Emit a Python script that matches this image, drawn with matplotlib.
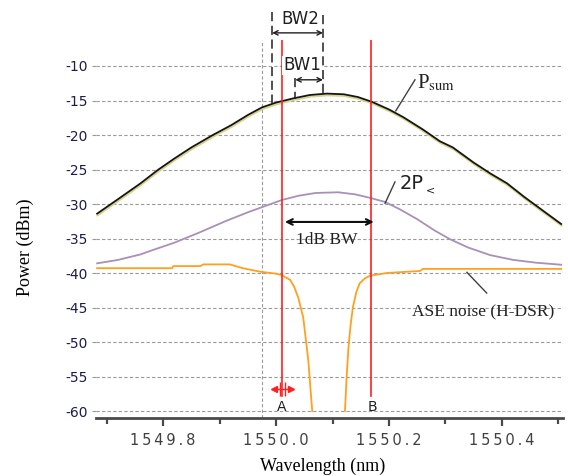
import numpy as np
import matplotlib
matplotlib.use("Agg")
from matplotlib import pyplot as plt
import matplotlib.patheffects as pe

plt.rcParams['axes.unicode_minus'] = False
plt.rcParams['mathtext.fontset'] = 'stix'

# values (wavelength nm, power dBm)
psum_wl = [1549.683, 1549.72, 1549.76, 1549.79, 1549.82, 1549.85, 1549.888, 1549.92,
           1549.95, 1549.975, 1550.0, 1550.03, 1550.06, 1550.09, 1550.12, 1550.145,
           1550.17, 1550.2, 1550.225, 1550.26, 1550.29, 1550.313, 1550.35, 1550.38,
           1550.409, 1550.44, 1550.47, 1550.505]
psum_db = [-31.4, -29.3, -27.0, -25.1, -23.4, -21.8, -20.0, -18.6,
           -17.1, -16.0, -15.3, -14.7, -14.2, -14.0, -14.1, -14.5,
           -15.2, -16.3, -17.4, -19.2, -20.9, -21.8, -24.0, -25.6,
           -27.0, -29.0, -30.8, -32.9]

p2_wl = [1549.683, 1549.72, 1549.76, 1549.777, 1549.82, 1549.865, 1549.91, 1549.95,
         1549.977, 1550.011, 1550.04, 1550.07, 1550.11, 1550.14, 1550.166, 1550.193,
         1550.22, 1550.25, 1550.28, 1550.308, 1550.34, 1550.379, 1550.42, 1550.46, 1550.505]
p2_db = [-38.6, -38.1, -37.3, -36.8, -35.6, -34.1, -32.5, -31.2,
         -30.4, -29.4, -28.8, -28.4, -28.3, -28.6, -29.1, -29.7,
         -30.8, -32.2, -33.8, -35.1, -36.3, -37.4, -38.1, -38.5, -38.8]

ase_l_wl = [1549.683, 1549.816, 1549.818, 1549.866, 1549.871, 1549.918, 1549.941, 1549.971,
            1550.0, 1550.01, 1550.025, 1550.032, 1550.039, 1550.048, 1550.057, 1550.064]
ase_l_db = [-39.3, -39.3, -39.0, -39.0, -38.75, -38.75, -39.3, -39.8,
            -40.1, -40.3, -41.0, -42.0, -43.5, -46.4, -52.6, -60.0]
ase_r_wl = [1550.122, 1550.125, 1550.128, 1550.132, 1550.136, 1550.142, 1550.148, 1550.157,
            1550.166, 1550.196, 1550.255, 1550.26, 1550.505]
ase_r_db = [-60.0, -55.0, -51.0, -47.5, -45.0, -42.8, -41.5, -40.8,
            -40.4, -40.0, -39.7, -39.4, -39.4]

cursor_a = 1550.0106
cursor_b = 1550.168
grid_x = 1549.975
bw2 = [1549.993, 1550.083]
bw1 = [1550.034, 1550.083]

yticks = [-10, -15, -20, -25, -30, -35, -40, -45, -50, -55, -60]
xticks = [1549.8, 1550.0, 1550.2, 1550.4]
xminor = [1549.7, 1549.9, 1550.1, 1550.3, 1550.5]
xlabels = ['1549.8', '1550.0', '1550.2', '1550.4']

fig = plt.figure(figsize=(5.68, 4.76), dpi=100)
ax = fig.add_axes([0.169, 0.122, 0.822, 0.794])
ax.set_xlim(1549.681, 1550.508)
ax.set_ylim(-61.0, -6.23)

for s in ['top', 'right', 'left']:
    ax.spines[s].set_visible(False)
ax.spines['bottom'].set_color('#4a4a4a')
ax.spines['bottom'].set_linewidth(2)

ax.set_yticks(yticks)
ax.set_yticklabels([str(v) for v in yticks], color='#1c1c4a', fontsize=10)
ax.tick_params(axis='y', length=3, width=0.8, color='#999999', pad=3)
ax.set_xticks(xticks)
ax.set_xticks(xminor, minor=True)
ax.set_xticklabels(['\u2009'.join(t) for t in xlabels], color='#404040', fontsize=10.5)
ax.tick_params(axis='x', which='major', length=6, width=1.6, color='#4a4a4a', pad=5)
ax.tick_params(axis='x', which='minor', length=4, width=1.6, color='#4a4a4a')

ax.yaxis.grid(True, ls=(0, (3, 2)), lw=0.8, color='#9a9a9a')
ax.axvline(grid_x, ls=(0, (3, 2)), lw=0.8, color='#9a9a9a')

# curves
ax.plot(ase_l_wl, ase_l_db, color='#ffa020', lw=1.3)
ax.plot(ase_r_wl, ase_r_db, color='#ffa020', lw=1.3)
ax.plot(p2_wl, p2_db, color='#a890b8', lw=1.3)
ax.plot(psum_wl, psum_db, color='#151515', lw=1.3,
        path_effects=[pe.SimpleLineShadow(offset=(0.3, -1.3), shadow_color='#d6d48a', alpha=1),
                      pe.Normal()])

# cursors A / B
for c in [cursor_a, cursor_b]:
    ax.plot([c, c], [-6.23, -57.8], color='#ff2020', lw=1.2)
ax.text(cursor_a, -59.4, 'A', ha='center', va='center', fontsize=10, color='#202020')
ax.text(cursor_b + 0.003, -59.4, 'B', ha='center', va='center', fontsize=10, color='#202020')
ax.plot([cursor_a - 0.014, cursor_a + 0.014], [-56.8, -56.8], color='#ff2020', lw=1)
ax.plot([cursor_a - 0.015], [-56.8], marker='<', ms=4, color='#ff2020')
ax.plot([cursor_a + 0.015], [-56.8], marker='>', ms=4, color='#ff2020')
ax.plot([cursor_a - 0.004, cursor_a + 0.005], [-56.8, -56.8], ls='none', marker='|',
        ms=10, mew=1, color='#ff2020')

# bandwidth markers
dash = (0, (6, 3))
ax.plot([bw2[0], bw2[0]], [-2.2, -15.9], color='#202020', lw=1.1, ls=dash, clip_on=False)
ax.plot([bw2[1], bw2[1]], [-2.6, -13.9], color='#202020', lw=1.1, ls=dash, clip_on=False)
ax.plot([bw1[0], bw1[0]], [-11.7, -14.8], color='#202020', lw=1.1, ls=dash)
ax.annotate('', xy=(bw2[0], -5.2), xytext=(bw2[1], -5.2),
            arrowprops=dict(arrowstyle='<->', color='#202020', lw=1,
                            shrinkA=0, shrinkB=0, mutation_scale=8),
            annotation_clip=False)
ax.annotate('', xy=(bw1[0], -12.0), xytext=(bw1[1], -12.0),
            arrowprops=dict(arrowstyle='<->', color='#202020', lw=1,
                            shrinkA=0, shrinkB=0, mutation_scale=8))
ax.text(1550.0425, -3.2, 'BW2', ha='center', va='center', fontsize=12,
        color='#202020', clip_on=False)
ax.text(1550.046, -9.9, 'BW1', ha='center', va='center', fontsize=12,
        color='#202020', bbox=dict(fc='white', ec='none', pad=0.5))

ax.annotate('', xy=(cursor_a + 0.005, -32.6), xytext=(cursor_b + 0.005, -32.6),
            arrowprops=dict(arrowstyle='<->', color='#101010', lw=1.5,
                            shrinkA=0, shrinkB=0, mutation_scale=10))
ax.text(1550.090, -35.2, '1dB BW', ha='center', va='center', fontsize=12.5,
        family='Liberation Serif', color='#202020')

# labels with leader lines
ax.plot([1550.246, 1550.212], [-12.0, -16.5], color='#404040', lw=1)
ax.text(1550.249, -12.5, r'P$_{\mathrm{sum}}$', ha='left', va='center', fontsize=15,
        family='Liberation Serif', color='#202020')
ax.plot([1550.2106, 1550.193], [-26.8, -29.9], color='#404040', lw=1)
ax.text(1550.2195, -27.0, '2P', ha='left', va='center', fontsize=14, color='#202020')
ax.text(1550.266, -28.0, '<', ha='left', va='center', fontsize=8, color='#202020')
ax.plot([1550.338, 1550.373], [-39.9, -42.9], color='#404040', lw=1)
ax.text(1550.2407, -45.65, 'ASE noise (H-DSR)', ha='left', va='center', fontsize=12.5,
        family='Liberation Serif', color='#202020')

fig.text(25 / 568, 1 - 247 / 476, 'Power (dBm)', rotation=90, ha='center', va='center',
         fontsize=13, family='Liberation Serif')
fig.text(323 / 568, 1 - 466 / 476, 'Wavelength (nm)', ha='center', va='center',
         fontsize=13, family='Liberation Serif')

fig.savefig('out.png', dpi=100)
